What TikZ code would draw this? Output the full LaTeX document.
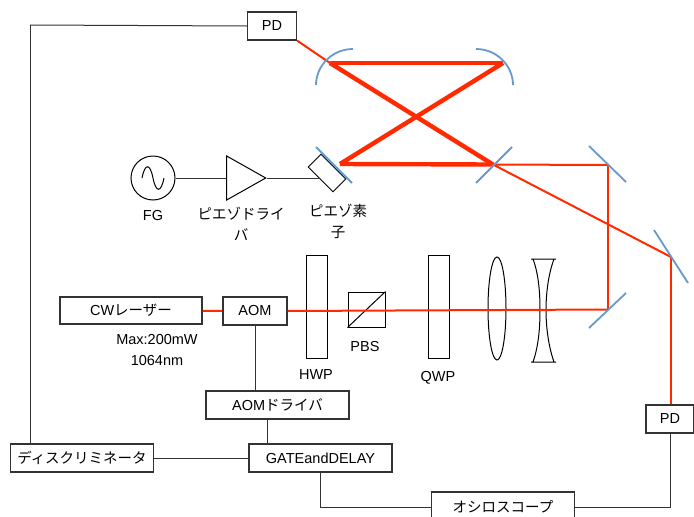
\documentclass[tikz,border=0pt]{standalone}
\usepackage{fontspec}
\setmainfont{Liberation Sans}
\newfontfamily\cjk{Noto Sans CJK JP}
\usetikzlibrary{shapes.geometric}
\definecolor{beamred}{HTML}{FF2A00}
\definecolor{mirrorblue}{HTML}{6699CC}
\definecolor{wiregray}{HTML}{333333}
\tikzset{
  box/.style={shape=rectangle,draw=wiregray,line width=1.1pt,inner sep=0pt,fill=white},
  optic/.style={shape=rectangle,draw=black,line width=1pt,inner sep=0pt,minimum width=21,minimum height=103},
  element/.style={draw=black,line width=1pt,inner sep=0pt},
  label/.style={inner sep=0pt,align=center},
  wire/.style={draw=wiregray,line width=1pt},
  thin beam/.style={draw=beamred,line width=2pt},
  thick beam/.style={draw=beamred,line width=4.4pt},
  mirror/.style={draw=mirrorblue,line width=1.8pt}
}
\begin{document}
\begin{tikzpicture}[x=1pt,y=-1pt,font=\fontsize{14.5}{21}\selectfont]
                \useasboundingbox (0,0) rectangle (694,517);
                \clip (0,0) rectangle (694,517);
                % optics
                \node[optic](HWP)at(316.5, 306.5){};
                \node[optic](QWP)at(438.5, 306.5){};
                \node[element,shape=rectangle,minimum width=37,minimum height=35](PBS)at(366.5, 309.5){};
                \draw[black,line width=1pt] (PBS.south west) -- (PBS.north east);
                \node[element,shape=ellipse,minimum width=18,minimum height=103](Lens1)at(497, 308.5){};
                \draw[black,line width=1pt] (531,259) -- (556,259)
                (531,362) -- (556,362)
                (533,259) .. controls (539,275) and (540,295) .. (540,310) .. controls (540,325) and (539,345) .. (533,362)
                (554,259) .. controls (548,275) and (546,295) .. (546,310) .. controls (546,325) and (548,345) .. (554,362);
                % boxes
                \node[box,minimum width=49,minimum height=28](PD1)at(272, 26){PD};
                \node[box,minimum width=48,minimum height=28](PD2)at(670, 419){PD};
                \node[box,minimum width=142,minimum height=27](CW)at(131, 310.5){CW{\cjk レーザー}};
                \node[box,minimum width=64,minimum height=28](AOM)at(255, 311){AOM};
                \node[box,minimum width=143,minimum height=28](Driver)at(277.5, 405){AOM{\cjk ドライバ}};
                \node[box,minimum width=143,minimum height=28](Gate)at(320.5, 458){GATEandDELAY};
                \node[box,minimum width=143,minimum height=28](Disc)at(82, 458){\cjk ディスクリミネータ};
                \node[box,minimum width=143,minimum height=30](Scope)at(503, 507){\cjk オシロスコープ};
                \node[element,shape=circle,minimum size=44](FG)at(153, 178){};
                \draw[black,line width=1pt] (142,178) .. controls (145,163) and (150,163) .. (153,178) .. controls (156,193) and (161,193) .. (164,178);
                \node[element,shape=isosceles triangle,isosceles triangle stretches,minimum width=44,minimum height=39,anchor=apex](Amp)at(267, 178){};
                \node[element,shape=rectangle,minimum width=35,minimum height=18,rotate=-45](Piezo)at(327, 173){};
                % labels
                \node[label](FGlabel)at(153, 216){FG};
                \node[label](Amplabel)at(241, 224){\cjk ピエゾドライ\\\cjk バ};
                \node[label](Piezolabel)at(338, 221){\cjk ピエゾ素\\\cjk 子};
                \node[label](HWPlabel)at(316, 375){HWP};
                \node[label](PBSlabel)at(365, 347){PBS};
                \node[label](QWPlabel)at(438, 378){QWP};
                \node[label](Laserlabel)at(157, 350){Max:200mW\\1064nm};
                % beam and wire corners
                \coordinate (M1) at (330,63);
                \coordinate (M2) at (503,63);
                \coordinate (M3) at (340,164);
                \coordinate (M4) at (493,164.5);
                \coordinate (M5) at (608,165);
                \coordinate (M6) at (608,309.5);
                \coordinate (M7) at (671,257);
                \coordinate (W1) at (30,25);
                \coordinate (W2) at (30,444);
                \coordinate (W3) at (267,419);
                \coordinate (W4) at (267,444);
                % wires
                \path[wire](PD1.west) edge (W1)
                (W1) edge (W2)
                (FG) edge (Amp.lower side)
                (Amp.apex) edge (Amp.apex -| Piezo.south)
                (AOM) edge (Driver.north -| AOM)
                (W3) edge (W4)
                (Disc) edge (Gate);
                \draw[wire] (Gate.south) |- (Scope.west);
                \draw[wire] (Scope.east) -| (PD2.south);
                % beams
                \path[thin beam](PD1.south east) edge (M1)
                (CW) edge (AOM)
                (AOM.east) edge (M6)
                (M4) edge (M5)
                (M5) edge (M6)
                (M4) edge (M7)
                (M7) edge (M7 |- PD2.north);
                \path[thick beam](M1) edge (M2)
                (M2) edge (M3)
                (M3) edge (M4)
                (M4) edge (M1);
                % mirrors
                \draw[mirror] (353,49) .. controls (332,49) and (316,66) .. (316,85);
                \draw[mirror] (476,49) .. controls (497,49) and (513,66) .. (513,85);
                \draw[mirror] (316,147) -- (352,183);
                \draw[mirror] (476,183) -- (512,147);
                \draw[mirror] (589,146) -- (626,182);
                \draw[mirror] (589,328) -- (626,293);
                \draw[mirror] (654,230) -- (688,283);
            \end{tikzpicture}
\end{document}
